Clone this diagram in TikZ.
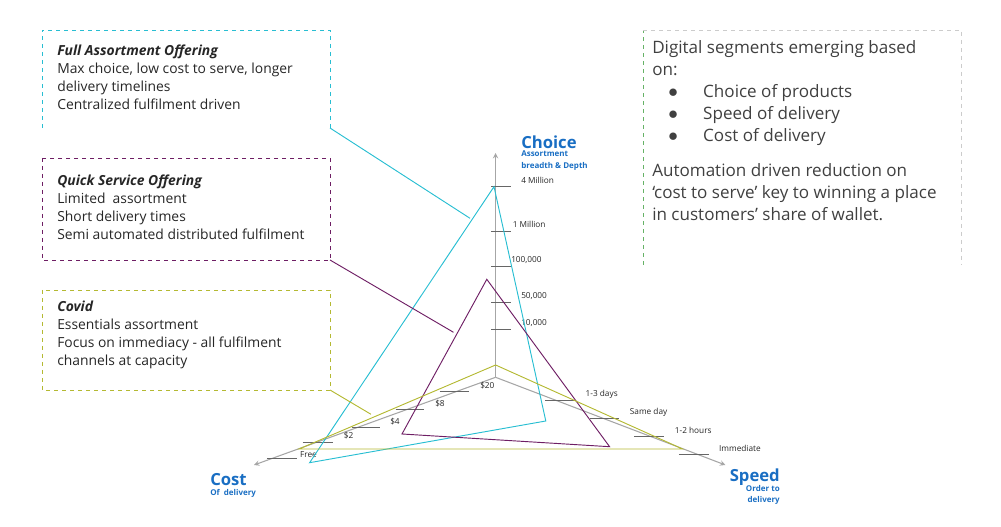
\documentclass[tikz,border=0pt]{standalone}
\usepackage{fontspec}
\setmainfont{Open Sans}
\definecolor{cyc}{RGB}{40,190,210}
\definecolor{puc}{RGB}{110,30,100}
\definecolor{olc}{RGB}{180,185,50}
\definecolor{tbl}{RGB}{25,110,195}
\begin{document}
\begin{tikzpicture}[x=0.75pt,y=-0.75pt,
  ax/.style={draw=gray!70,line width=0.8pt,-stealth},
  tk/.style={draw=gray!80!black,line width=0.7pt},
  lab/.style={font=\fontsize{6.2}{7}\selectfont,anchor=west,inner sep=0pt,text=black!85},
  body/.style={font=\fontsize{10.4}{13.5}\selectfont,align=left,anchor=north west,inner sep=0pt,text=black!85},
  ttl/.style={font=\fontsize{12.5}{13}\bfseries\selectfont,text=tbl,inner sep=0pt},
  sub/.style={font=\fontsize{6}{8.5}\bfseries\selectfont,text=tbl,inner sep=0pt},
  cy/.style={draw=cyc,line width=0.7pt},
  pu/.style={draw=puc,line width=0.7pt},
  ol/.style={draw=olc,line width=0.7pt}]
\useasboundingbox (0,0) rectangle (1001,527);
% boxes
\draw[cyc,dashed,line width=0.5pt] (42,128) -- (42,30) -- (330,30) -- (330,128);
\draw[puc,dashed,line width=0.5pt] (42,158) rectangle (330,260);
\draw[olc,dashed,line width=0.5pt] (42,290) rectangle (330,390);
\draw[green!50!black!60,dashed,line width=0.5pt] (643,265) -- (643,30);
\draw[gray!40,dashed,line width=0.5pt] (643,30) -- (961,30) -- (961,265);
\node[body] (t1) at (57,45) {\textbf{\textit{Full Assortment Offering}}\\Max choice, low cost to serve, longer\\delivery timelines\\Centralized fulfilment driven};
\node[body] (t2) at (57,175) {\textbf{\textit{Quick Service Offering}}\\Limited\ \ assortment\\Short delivery times\\Semi automated distributed fulfilment};
\node[body] (t3) at (57,301) {\textbf{\textit{Covid}}\\Essentials assortment\\Focus on immediacy - all fulfilment\\channels at capacity};
\node[font=\fontsize{12.8}{16.5}\selectfont,align=left,anchor=north west,inner sep=0pt,text=black!75] (t4) at (652,40)
 {Digital segments emerging based\\on:\\\hspace*{12pt}{\Large$\bullet$}\hspace{19pt}Choice of products\\\hspace*{12pt}{\Large$\bullet$}\hspace{19pt}Speed of delivery\\\hspace*{12pt}{\Large$\bullet$}\hspace{19pt}Cost of delivery\\[10pt]Automation driven reduction on\\`cost to serve' key to winning a place\\in customers' share of wallet.};
% axes
\coordinate (O) at (495.6,377.3);
\coordinate (Ct) at (495.6,153);
\coordinate (Kt) at (254,465);
\coordinate (St) at (725.4,465);
\draw[ax] (O) -- (Ct);
\draw[ax] (O) -- (Kt);
\draw[ax] (O) -- (St);
% choice ticks
\foreach \y/\t/\lx/\ly in {186.7/4 Million/521/180, 231/1 Million/512.5/224.7, 266.7/100{,}000/511/260.3, 302.3/50{,}000/521/296, 329.3/10{,}000/521/322.7}{
  \draw[tk] (491.4,\y) -- (510.7,\y);
  \node[lab] at (\lx,\ly) {\t};}
% cost ticks
\foreach \a/\b/\y/\t/\lx/\ly in {439.5/469.3/391.7/\$20/480/385.3, 395.6/424.4/409.3/\$8/435/403.3, 351.8/379.8/427.3/\$4/390/421.3, 302.6/333/442.7/\$2/343.7/436, 266.8/296.7/458.3/Free/299.8/454.3}{
  \draw[tk] (\a,\y) -- (\b,\y);
  \node[lab] at (\lx,\ly) {\t};}
% speed ticks
\foreach \a/\b/\y/\t/\lx/\ly in {545.4/576.3/400/1-3 days/585.4/394.3, 589.6/619/418.3/Same day/629.6/412.3, 634/664/436/1-2 hours/674.6/430, 678.8/708.6/454/Immediate/718.8/448}{
  \draw[tk] (\a,\y) -- (\b,\y);
  \node[lab] at (\lx,\ly) {\t};}
% titles
\node[ttl,anchor=west] (ch) at (521,142.3) {Choice};
\node[sub,anchor=north west,align=left] (chs) at (521,151) {Assortment\\breadth \& Depth};
\node[ttl,anchor=east] (sp) at (780,476.7) {Speed};
\node[sub,anchor=north east,align=right] (sps) at (780,485) {Order to\\delivery};
\node[ttl,anchor=west] (co) at (210,480) {Cost};
\node[sub,anchor=west] (cos) at (210,493) {Of\ \ delivery};
% polygons
\draw[cy] (494,186.7) -- (545.8,421) -- (309.6,462.7) -- cycle;
\draw[pu] (486.8,279.3) -- (609.6,446.7) -- (402,434) -- cycle;
\draw[ol] (495.6,365) -- (682.6,449) -- (299,449) -- cycle;
% leaders
\draw[cy] (330,128) -- (470,218.3);
\draw[pu] (330,260) -- (453.5,332.3);
\draw[ol] (330,390) -- (371,414.3);
\end{tikzpicture}
\end{document}
